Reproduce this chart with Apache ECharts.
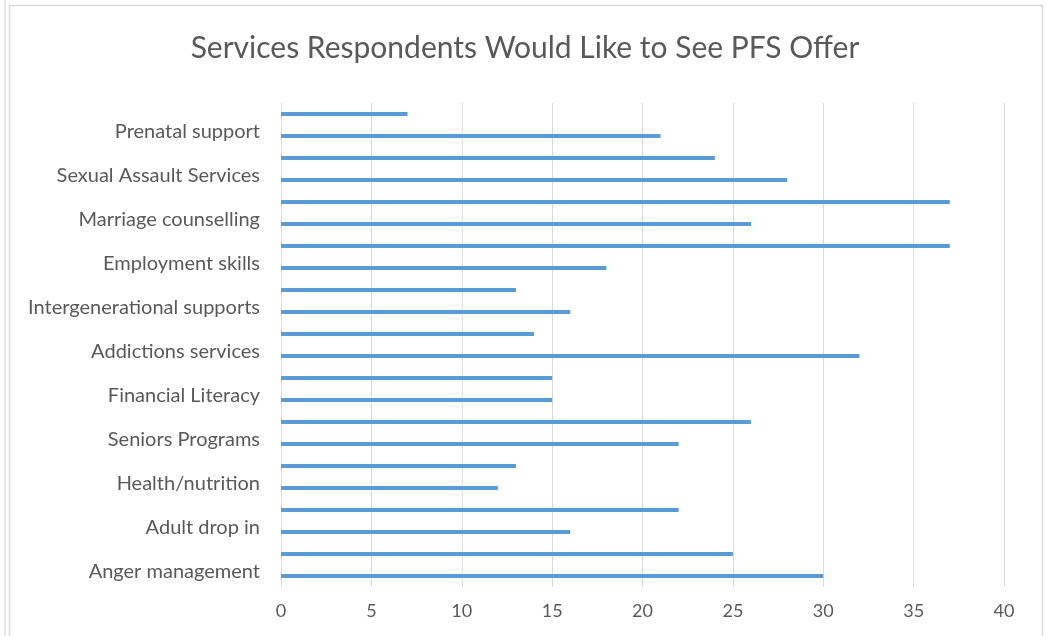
<!DOCTYPE html>
<html>
<head>
<meta charset="utf-8">
<script src="https://cdn.jsdelivr.net/npm/echarts@6/dist/echarts.min.js"></script>
<style>
html,body{margin:0;padding:0;background:#fff;}
#chart{width:1050px;height:636px;}
</style>
</head>
<body>
<div id="chart"></div>
<script>
// Categories top to bottom; every other row is labelled on the axis (as in the reference)
const labels = [
  "Prenatal support",
  "Sexual Assault Services",
  "Marriage counselling",
  "Employment skills",
  "Intergenerational supports",
  "Addictions services",
  "Financial Literacy",
  "Seniors Programs",
  "Health/nutrition",
  "Adult drop in",
  "Anger management"
];
// values top to bottom (unlabelled row, labelled row) pairs
const values = [7, 21, 24, 28, 37, 26, 37, 18, 13, 16, 14, 32, 15, 15, 26, 22, 13, 12, 22, 16, 25, 30];
const xTicks = [0, 5, 10, 15, 20, 25, 30, 35, 40];

const categories = [];
labels.forEach(function (l) { categories.push(''); categories.push(l); });

const chart = echarts.init(document.getElementById('chart'));
const font = 'Lato, "Open Sans", sans-serif';
chart.setOption({
  animation: false,
  backgroundColor: '#fff',
  title: {
    text: 'Services Respondents Would Like to See PFS Offer',
    left: 'center',
    top: 28,
    textStyle: { fontFamily: font, fontSize: 30, fontWeight: 'normal', color: '#595959' }
  },
  graphic: [
    { type: 'rect', shape: { x: 9.5, y: 5.5, width: 1033, height: 650 }, style: { fill: 'none', stroke: '#d9d9d9', lineWidth: 1.5 }, silent: true },
    { type: 'line', shape: { x1: 5, y1: 0, x2: 5, y2: 636 }, style: { stroke: '#e0e0e0', lineWidth: 1.5 }, silent: true }
  ],
  grid: { left: 281, right: 46, top: 103, bottom: 49, containLabel: false },
  xAxis: {
    type: 'value',
    min: xTicks[0],
    max: xTicks[xTicks.length - 1],
    interval: 5,
    axisLine: { show: false },
    axisTick: { show: false },
    splitLine: { show: true, lineStyle: { color: '#d9d9d9', width: 1 } },
    axisLabel: { margin: 15, fontFamily: font, fontSize: 18, color: '#595959' }
  },
  yAxis: {
    type: 'category',
    inverse: true,
    data: categories,
    axisLine: { show: true, lineStyle: { color: '#d9d9d9' } },
    axisTick: { show: false },
    axisLabel: {
      interval: function (index) { return index % 2 === 1; },
      margin: 21,
      fontFamily: font,
      fontSize: 20,
      color: '#595959',
      verticalAlign: 'bottom',
      lineHeight: 8
    }
  },
  series: [{
    type: 'bar',
    data: values,
    barWidth: 4,
    itemStyle: { color: '#5b9bd5' }
  }]
});
</script>
</body>
</html>
